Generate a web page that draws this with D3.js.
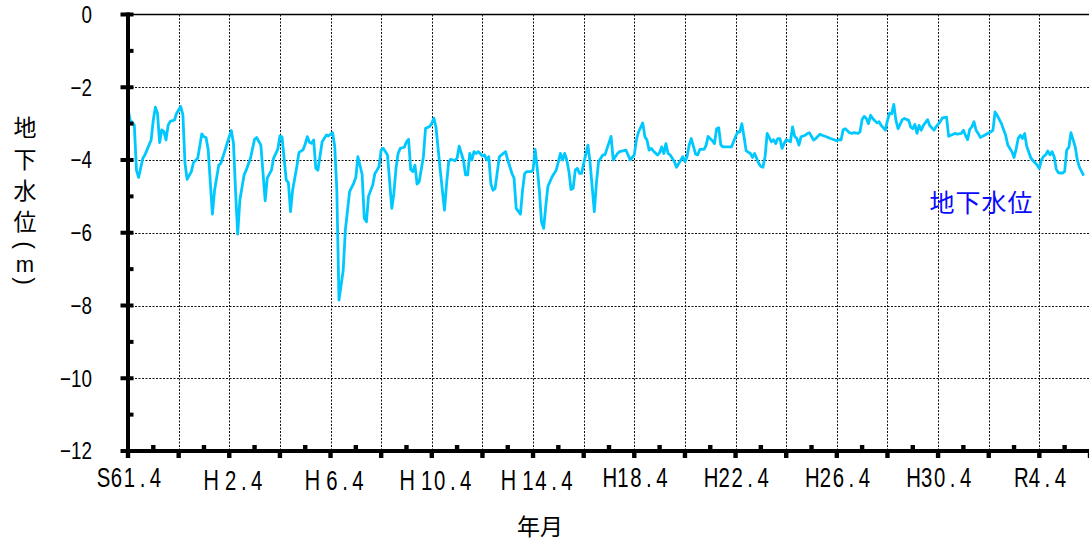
<!DOCTYPE html>
<html><head><meta charset="utf-8">
<script src="https://cdn.jsdelivr.net/npm/d3@7"></script>
<style>
html,body{margin:0;padding:0;background:#fff;overflow:hidden}
svg{display:block}
</style></head>
<body>
<svg id="chart" width="1089" height="546"></svg>
<script>
// ---- data (months counted from S61.4 = April 1986) ----
const startDate = new Date(1986, 3, 1);
const months = [0,1,3,4,5,7,8,11,12,13,14,15,16,17,18,19,20,22,23,25,26,27,28,30,31,33,35,36,37,38,40,41,43,44,46,47,49,50,51,52,53,55,56,58,60,61,63,65,66,68,69,71,72,73,75,76,77,78,80,81,83,84,85,86,87,88,89,90,92,94,95,97,98,99,100,102,103,105,107,108,109,111,112,113,114,116,117,118,119,120,121,123,125,126,127,128,129,131,132,133,134,135,136,137,138,140,141,143,144,145,146,148,150,151,152,153,155,156,157,159,160,161,162,163,164,165,166,168,169,170,171,172,173,174,176,177,179,180,182,183,184,186,187,188,189,191,192,193,194,195,196,197,198,199,201,203,204,205,206,207,208,209,210,211,212,213,214,215,216,218,219,221,222,223,225,226,227,229,230,232,233,236,237,238,240,241,242,244,245,246,247,248,249,251,252,253,254,255,256,257,259,260,262,263,264,265,266,267,269,270,271,273,274,275,277,278,279,280,281,282,284,286,288,289,290,291,292,293,295,296,297,299,300,301,302,303,305,306,307,308,309,310,311,312,314,315,316,317,318,319,321,322,323,325,326,328,329,331,333,336,337,338,339,340,342,343,344,346,347,348,349,350,351,352,353,355,356,357,359,360,361,362,363,364,365,367,368,370,371,372,373,374,375,376,377,379,380,382,383,385,386,388,389,390,392,393,395,396,397,398,399,400,401,402,403,404,406,408,409,410,411,412,414,416,417,419,420,421,422,423,424,425,426,428,429,431,432,433,434,435,436,437,438,439,440,441,443,444,445,446,447,449,450,451,453];
const levels = [-2.58,-2.90,-3.04,-4.28,-4.48,-3.95,-3.86,-3.45,-2.90,-2.55,-2.72,-3.52,-3.17,-3.22,-3.45,-3.04,-2.94,-2.90,-2.72,-2.53,-2.76,-4.09,-4.53,-4.32,-4.07,-3.95,-3.28,-3.36,-3.38,-3.72,-5.49,-4.83,-4.14,-4.09,-3.72,-3.54,-3.19,-3.54,-4.87,-6.04,-5.10,-4.41,-4.28,-3.95,-3.43,-3.38,-3.59,-5.12,-4.50,-4.28,-3.95,-3.71,-3.34,-3.36,-4.55,-4.62,-5.42,-4.83,-4.18,-3.79,-3.72,-3.56,-3.36,-3.51,-3.54,-3.45,-4.23,-4.28,-3.50,-3.31,-3.34,-3.25,-3.63,-4.83,-7.85,-7.03,-5.93,-4.87,-4.64,-4.48,-3.91,-4.40,-5.60,-5.70,-5.00,-4.69,-4.37,-4.28,-4.18,-3.72,-3.68,-3.86,-5.33,-4.92,-4.23,-3.82,-3.68,-3.65,-3.50,-3.43,-4.26,-4.32,-4.14,-4.66,-4.60,-3.91,-3.13,-3.08,-2.99,-2.85,-3.10,-4.28,-5.38,-4.64,-4.05,-3.98,-4.02,-3.95,-3.62,-4.00,-4.41,-4.41,-3.82,-4.00,-3.77,-3.82,-3.77,-3.89,-3.86,-4.00,-3.91,-4.66,-4.83,-4.78,-3.91,-3.86,-3.77,-4.00,-4.37,-4.50,-5.33,-5.49,-4.83,-4.37,-4.32,-4.32,-4.28,-3.71,-4.23,-4.83,-5.70,-5.88,-5.28,-4.73,-4.46,-4.28,-4.05,-3.82,-4.00,-3.82,-4.00,-4.32,-4.81,-4.78,-4.28,-4.23,-4.37,-4.37,-4.09,-3.59,-4.05,-5.42,-4.64,-4.05,-3.86,-3.86,-3.70,-3.35,-4.00,-3.82,-3.77,-3.73,-3.86,-4.00,-3.86,-3.45,-3.23,-2.98,-3.36,-3.45,-3.73,-3.68,-3.75,-3.86,-3.80,-3.64,-3.82,-3.55,-3.82,-3.86,-4.05,-4.20,-4.00,-3.91,-4.05,-3.91,-3.59,-3.41,-3.84,-3.86,-3.71,-3.71,-3.59,-3.35,-3.47,-3.55,-3.14,-3.11,-3.59,-3.64,-3.64,-3.64,-3.36,-3.23,-3.23,-3.00,-3.36,-3.75,-3.82,-3.93,-3.82,-4.09,-4.18,-4.20,-3.91,-3.27,-3.50,-3.44,-3.55,-3.41,-3.41,-3.68,-3.55,-3.44,-3.50,-3.09,-3.35,-3.41,-3.59,-3.36,-3.32,-3.27,-3.25,-3.45,-3.41,-3.29,-3.32,-3.36,-3.41,-3.47,-3.44,-3.45,-3.17,-3.14,-3.25,-3.27,-3.25,-3.27,-3.23,-2.89,-2.80,-2.86,-3.00,-2.77,-2.86,-2.98,-2.95,-3.05,-3.18,-2.91,-2.71,-2.73,-2.47,-2.91,-3.14,-2.89,-2.86,-2.91,-3.09,-3.14,-3.02,-3.27,-3.05,-3.18,-3.05,-2.89,-3.05,-3.18,-3.09,-2.95,-2.84,-2.82,-3.35,-3.32,-3.27,-3.29,-3.27,-3.18,-3.32,-3.44,-3.16,-3.09,-2.95,-3.18,-3.27,-3.38,-3.32,-3.25,-3.23,-3.18,-2.68,-2.77,-3.00,-3.32,-3.59,-3.77,-3.93,-3.70,-3.40,-3.32,-3.41,-3.27,-3.62,-3.95,-4.02,-4.14,-4.23,-4.00,-3.90,-3.86,-3.75,-3.86,-3.77,-3.91,-4.25,-4.35,-4.36,-4.32,-3.73,-3.65,-3.25,-3.64,-4.00,-4.20,-4.43];
const xLabelMonths = [0,48,96,144,192,240,288,336,384,432];
const xLabels = ["S61.4","Ｈ2.4","Ｈ6.4","Ｈ10.4","Ｈ14.4","H18.4","H22.4","H26.4","H30.4","R4.4"];
const yTicks = [0,-2,-4,-6,-8,-10,-12];
const yLabels = ["0","−2","−4","−6","−8","−10","−12"];
const seriesName = "地下水位";
const yTitleMain = ["地","下","水","位"];
const yTitleUnit = ["(","m",")"];
const xTitle = "年月";

// ---- layout ----
const svg = d3.select("#chart");
const L = 128, R = 1090, T = 14.5, B = 451;
const dateOf = m => d3.timeMonth.offset(startDate, m);
const x = d3.scaleTime().domain([dateOf(0), dateOf(456)]).range([L, R]);
const y = d3.scaleLinear().domain([0, -12]).range([T, B]);
const latin = "'Liberation Sans',Arimo,Arial,sans-serif";
const cjk = "'Noto Sans CJK JP','Noto Sans CJK SC',sans-serif";

const majorM = d3.range(0, 457, 24);
const minorM = d3.range(12, 457, 24);

// grid
const g = svg.append("g");
g.selectAll("line.vg").data(majorM.slice(1)).join("line")
  .attr("x1", d => Math.round(x(dateOf(d))) + 0.5).attr("x2", d => Math.round(x(dateOf(d))) + 0.5)
  .attr("y1", T).attr("y2", B)
  .attr("stroke", "#111").attr("stroke-width", 1).attr("stroke-dasharray", "2,1.5");
g.selectAll("line.hg").data([-2,-4,-6,-8,-10]).join("line")
  .attr("x1", L).attr("x2", R)
  .attr("y1", d => Math.round(y(d)) + 0.5).attr("y2", d => Math.round(y(d)) + 0.5)
  .attr("stroke", "#111").attr("stroke-width", 1).attr("stroke-dasharray", "2,1.5");
// top frame
g.append("line").attr("x1", L).attr("x2", R).attr("y1", y(0)).attr("y2", y(0))
  .attr("stroke", "#000").attr("stroke-width", 1.6);

// data line
const line = d3.line().x((d, i) => x(dateOf(months[i]))).y((d, i) => y(levels[i]));
svg.append("path").datum(levels).attr("d", line)
  .attr("fill", "none").attr("stroke", "#00c8ff").attr("stroke-width", 2.8)
  .attr("stroke-linejoin", "round");

// axes
svg.append("line").attr("x1", L).attr("x2", L).attr("y1", T - 2).attr("y2", B + 2)
  .attr("stroke", "#000").attr("stroke-width", 4);
svg.append("line").attr("x1", L - 2).attr("x2", R).attr("y1", B).attr("y2", B)
  .attr("stroke", "#000").attr("stroke-width", 4);
// y ticks
svg.selectAll("rect.ymaj").data(yTicks).join("rect")
  .attr("x", L - 7.5).attr("width", 13).attr("y", d => y(d) - 2).attr("height", 4).attr("fill", "#000");
svg.selectAll("rect.ymin").data([-1,-3,-5,-7,-9,-11]).join("rect")
  .attr("x", L).attr("width", 5.5).attr("y", d => y(d) - 2).attr("height", 4).attr("fill", "#000");
// x ticks
svg.selectAll("rect.xmaj").data(majorM).join("rect")
  .attr("x", d => x(dateOf(d)) - 2.2).attr("width", 4.4).attr("y", B).attr("height", 7).attr("fill", "#000");
svg.selectAll("rect.xmin").data(minorM).join("rect")
  .attr("x", d => x(dateOf(d)) - 2.2).attr("width", 4.4).attr("y", B - 6).attr("height", 6).attr("fill", "#000");

// y labels (condensed by horizontal scaling)
const sy = 0.8;
svg.selectAll("text.yl").data(yTicks).join("text")
  .attr("transform", `scale(${sy},1)`)
  .attr("x", 92 / sy).attr("y", d => y(d)).attr("dy", "0.36em")
  .attr("text-anchor", "end").attr("font-family", latin).attr("font-size", 23.5)
  .text((d, i) => yLabels[i]);

// x labels: fixed cells (half-width 13px / full-width 26px), condensed glyphs
const cell = 13, sx = 0.74;
xLabels.forEach((lab, i) => {
  const chars = Array.from(lab);
  const widths = chars.map(c => c.charCodeAt(0) > 0xff ? 2 : 1);
  const total = d3.sum(widths) * cell;
  const cx = x(dateOf(xLabelMonths[i])) + 1.5;
  let pos = cx - total / 2;
  const full = widths.some(w => w === 2);
  const t = svg.append("text").attr("transform", `scale(${sx},1)`)
    .attr("font-family", latin).attr("font-size", 27.5).attr("text-anchor", "middle");
  chars.forEach((c, j) => {
    const w = widths[j] * cell;
    t.append("tspan").attr("x", (pos + w / 2) / sx).attr("y", full ? 490 : 487.5)
      .attr("font-family", widths[j] === 2 ? cjk : latin)
      .text(c);
    pos += w;
  });
});

// y title (vertical): 地下水位 then (m) with parentheses turned for vertical writing
const yt = svg.append("text").attr("font-family", cjk).attr("font-size", 23).attr("text-anchor", "middle");
const ytY = [128, 159.5, 190.5, 221.5];
yTitleMain.forEach((c, i) => {
  yt.append("tspan").attr("x", 25).attr("y", ytY[i]).attr("dy", "0.36em").text(c);
});
const unitY = [245, 266.5, 281];
yTitleUnit.forEach((c, i) => {
  if (c === "m") {
    svg.append("text").attr("x", 25).attr("y", unitY[i] + 5.5).attr("text-anchor", "middle")
      .attr("font-family", latin).attr("font-size", 22).text(c);
  } else {
    svg.append("text").attr("transform", `translate(25,${unitY[i]}) rotate(90)`)
      .attr("text-anchor", "middle").attr("dominant-baseline", "central")
      .attr("font-family", latin).attr("font-size", 23).text(c);
  }
});

// x title
svg.append("text").attr("x", 540).attr("y", 535).attr("text-anchor", "middle")
  .attr("font-family", cjk).attr("font-size", 23).text(xTitle);

// series label
svg.append("text").attr("x", 981.5).attr("y", 212).attr("text-anchor", "middle")
  .attr("font-family", cjk).attr("font-size", 25).attr("letter-spacing", 1)
  .attr("fill", "#0a0aff").text(seriesName);
</script>
</body></html>
